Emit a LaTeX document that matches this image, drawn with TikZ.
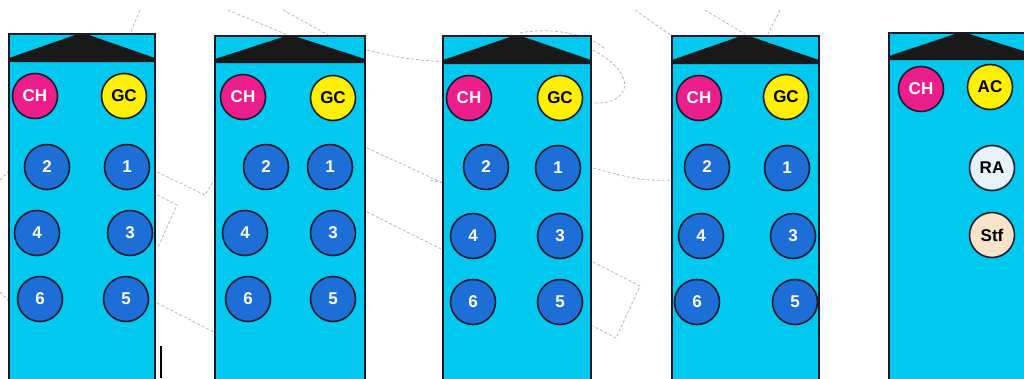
\documentclass[tikz,border=0pt]{standalone}
\usepackage{fontspec}
\setmainfont{Liberation Sans}
\definecolor{buscyan}{HTML}{00C8EE}
\definecolor{seatblue}{HTML}{1E6ED8}
\definecolor{chpink}{HTML}{EC1E8C}
\definecolor{gcyellow}{HTML}{FFF000}
\definecolor{rawhite}{HTML}{E6F2F8}
\definecolor{stfpeach}{HTML}{F9E3C8}
\definecolor{edge}{HTML}{1A1A2A}
\definecolor{planline}{HTML}{B8B8B8}
\tikzset{
  busbody/.style={fill=buscyan, draw=edge, line width=1.4pt},
  header/.style={fill=black!90, draw=none},
  seat/.style={circle, minimum size=45pt, inner sep=0pt, draw=edge, line width=1.6pt,
               font=\fontsize{17}{17}\selectfont\bfseries},
  num/.style={seat, fill=seatblue, text=white},
  ch/.style={seat, fill=chpink, text=white},
  gc/.style={seat, fill=gcyellow, text=black},
  ra/.style={seat, fill=rawhite, text=black},
  stf/.style={seat, fill=stfpeach, text=black},
  plan/.style={draw=planline, dashed, dash pattern=on 3pt off 2pt, line width=0.8pt},
}
% #1 left x, #2 right x, #3 top y, #4 header bottom y, #5 apex x
\newcommand{\drawbus}[5]{%
  \draw[busbody] (#1,#3) rectangle (#2,380);
  \fill[header] (#1,#4-4) -- (#5-4,#3) -- (#5+4,#3) -- (#2,#4-4) -- (#2,#4) -- (#1,#4) -- cycle;
  \draw[edge, line width=1.4pt] (#1,#3) rectangle (#2,380);
}
\begin{document}
\begin{tikzpicture}[x=1pt,y=-1pt]
\useasboundingbox (0,0) rectangle (1024,378);
\clip (0,0) rectangle (1024,378);
\fill[white] (0,0) rectangle (1024,378);
% faint floor plan behind
\draw[plan] (140,10) -- (130,34);
\draw[plan] (157,172) -- (205,195) -- (214,180);
\draw[plan] (157,195) -- (177,205) -- (158,247);
\draw[plan] (157,303) -- (214,332);
\draw[plan] (0,180) -- (8,172);
\draw[plan] (0,292) -- (8,300);
\draw[plan] (228,10) -- (290,36);
\draw[plan] (283,10) -- (330,36);
\draw[plan] (367,50) .. controls (400,58) .. (443,62);
\draw[plan] (367,148) -- (443,183);
\draw[plan] (367,212) -- (443,250);
\draw[plan] (430,180) -- (443,183);
\draw[plan] (520,33) .. controls (560,25) and (600,40) .. (605,50);
\draw[plan] (593,50) .. controls (640,75) and (630,105) .. (593,103);
\draw[plan] (593,168) .. controls (620,175) and (640,182) .. (672,180);
\draw[plan] (593,262) -- (640,286) -- (616,338) -- (593,326);
\draw[plan] (635,10) -- (672,36);
\draw[plan] (705,10) -- (745,34);
\draw[plan] (780,10) -- (768,34);
\draw[black, line width=1.4pt] (161,346) -- (161,378);
% buses
\drawbus{9}{155}{34}{62}{82}
\drawbus{215}{365}{36}{63}{290}
\drawbus{443}{591}{36}{64}{517}
\drawbus{672}{819}{36}{64}{745}
\drawbus{889}{1040}{33}{60}{962}
% bus 1
\node[ch]  (b1ch) at (35,96)  {CH};
\node[gc]  (b1gc) at (124,96) {GC};
\node[num] (b1s2) at (47,167) {2};
\node[num] (b1s1) at (127,167) {1};
\node[num] (b1s4) at (37,233) {4};
\node[num] (b1s3) at (130,233) {3};
\node[num] (b1s6) at (40,299) {6};
\node[num] (b1s5) at (126,299) {5};
% bus 2
\node[ch]  (b2ch) at (243,97) {CH};
\node[gc]  (b2gc) at (333,98) {GC};
\node[num] (b2s2) at (266,167) {2};
\node[num] (b2s1) at (330,167) {1};
\node[num] (b2s4) at (245,233) {4};
\node[num] (b2s3) at (333,233) {3};
\node[num] (b2s6) at (248,299) {6};
\node[num] (b2s5) at (333,299) {5};
% bus 3
\node[ch]  (b3ch) at (469,98) {CH};
\node[gc]  (b3gc) at (560,98) {GC};
\node[num] (b3s2) at (486,167) {2};
\node[num] (b3s1) at (558,168) {1};
\node[num] (b3s4) at (473,236) {4};
\node[num] (b3s3) at (560,236) {3};
\node[num] (b3s6) at (473,302) {6};
\node[num] (b3s5) at (560,302) {5};
% bus 4
\node[ch]  (b4ch) at (699,98) {CH};
\node[gc]  (b4gc) at (786,97) {GC};
\node[num] (b4s2) at (707,167) {2};
\node[num] (b4s1) at (787,168) {1};
\node[num] (b4s4) at (701,236) {4};
\node[num] (b4s3) at (793,236) {3};
\node[num] (b4s6) at (697,302) {6};
\node[num] (b4s5) at (795,302) {5};
% bus 5
\node[ch]  (b5ch) at (921,89)  {CH};
\node[gc]  (b5ac) at (990,87)  {AC};
\node[ra]  (b5ra) at (992,168) {RA};
\node[stf] (b5st) at (992,235) {Stf};
\end{tikzpicture}
\end{document}
